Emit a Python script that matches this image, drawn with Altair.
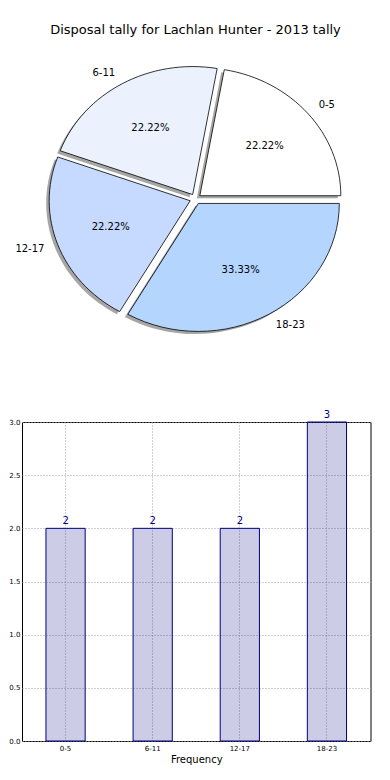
import altair as alt
import pandas as pd

# ---------------- data ----------------
TITLE = "Disposal tally for Lachlan Hunter - 2013 tally"
categories = ["0-5", "6-11", "12-17", "18-23"]
counts = [2, 2, 2, 3]
y_ticks = [0.0, 0.5, 1.0, 1.5, 2.0, 2.5, 3.0]
x_title = "Frequency"

# ---------------- style ----------------
slice_colors = ["#ffffff", "#ebf2fe", "#c6d9fe", "#b3d5fe"]
NAVY = "#000080"
FONT = "DejaVu Sans"

PLOT_LEFT = 21.5          # page x of the bar plot's left edge
CX, CY = 195 - PLOT_LEFT, 190
RX, RY = 141.0, 128.0
K = RY / RX
EXPLODE = 0.04
W = 370 - PLOT_LEFT
SIZE = (2 * RX) ** 2

df = pd.DataFrame({"idx": list(range(len(categories))), "cat": categories, "count": counts})


def r4(expr):
    return f"round(({expr})*10000)/10000"


pie_base = (
    alt.Chart(df)
    .transform_joinaggregate(total="sum(count)")
    .transform_window(cum="sum(count)", sort=[alt.SortField("idx", order="ascending")], frame=[None, 0])
    .transform_calculate(
        m0="2*PI*(datum.cum-datum.count)/datum.total",
        m1="2*PI*datum.cum/datum.total",
    )
    .transform_calculate(mm="(datum.m0+datum.m1)/2")
    .transform_calculate(
        cx=f"{CX}+{EXPLODE*RX}*cos(datum.mm)",
        cy=f"{CY}-{EXPLODE*RY}*sin(datum.mm)",
    )
    .transform_calculate(
        sx="datum.cx-3",
        sy="datum.cy+2.6",
        lx=f"datum.cx+{1.1*RX}*cos(datum.mm)",
        ly=f"datum.cy-{1.1*RY}*sin(datum.mm)",
        px=f"datum.cx+{0.6*RX}*cos(datum.mm)",
        py=f"datum.cy-{0.6*RY}*sin(datum.mm)",
        pct="format(100*datum.count/datum.total,'.2f')+'%'",
        path=(
            "'M0,0L'+" + r4("cos(datum.m0)") + "+','+" + r4(f"-{K}*sin(datum.m0)")
            + f"+'A1,{K:.5f},0,0,0,'+" + r4("cos(datum.m1)") + "+','+" + r4(f"-{K}*sin(datum.m1)")
            + "+'Z'"
        ),
    )
)

shadow = pie_base.mark_point(filled=True, size=SIZE, color="#4d4d4d", opacity=0.5).encode(
    x=alt.X("sx:Q", scale=None, axis=None),
    y=alt.Y("sy:Q", scale=None, axis=None),
    shape=alt.Shape("path:N", scale=None, legend=None),
)

slices = pie_base.mark_point(filled=True, size=SIZE, opacity=1, stroke="black", strokeWidth=0.8).encode(
    x=alt.X("cx:Q", scale=None, axis=None),
    y=alt.Y("cy:Q", scale=None, axis=None),
    shape=alt.Shape("path:N", scale=None, legend=None),
    fill=alt.Fill("cat:N", scale=alt.Scale(domain=categories, range=slice_colors), legend=None),
)

pct_text = pie_base.mark_text(fontSize=10, font=FONT, color="black", align="center", baseline="middle").encode(
    x=alt.X("px:Q", scale=None, axis=None),
    y=alt.Y("py:Q", scale=None, axis=None),
    text="pct:N",
)

lab_right = pie_base.transform_filter("cos(datum.mm) > 0").mark_text(
    fontSize=10, font=FONT, color="black", align="left", baseline="middle"
).encode(
    x=alt.X("lx:Q", scale=None, axis=None),
    y=alt.Y("ly:Q", scale=None, axis=None),
    text="cat:N",
)

lab_left = pie_base.transform_filter("cos(datum.mm) <= 0").mark_text(
    fontSize=10, font=FONT, color="black", align="right", baseline="middle"
).encode(
    x=alt.X("lx:Q", scale=None, axis=None),
    y=alt.Y("ly:Q", scale=None, axis=None),
    text="cat:N",
)

title_df = pd.DataFrame({"t": [TITLE]})
title = alt.Chart(title_df).mark_text(fontSize=13, font=FONT, color="black", align="center", baseline="middle").encode(
    x=alt.value(195 - PLOT_LEFT),
    y=alt.value(21),
    text="t:N",
)

pie = alt.layer(shadow, slices, pct_text, lab_right, lab_left, title).properties(
    width=W, height=390, view=alt.ViewBackground(stroke="transparent")
)

# ---------------- bar chart ----------------
bar_base = alt.Chart(df).encode(
    x=alt.X(
        "cat:N",
        sort=categories,
        scale=alt.Scale(paddingInner=0.55, paddingOuter=0.275),
        axis=alt.Axis(
            title=x_title, labelAngle=0, grid=True, gridDash=[1, 2], gridColor="#a0a0a0",
            bandPosition=0.5, ticks=False, domain=False, labelFontSize=7, labelColor="black",
            labelPadding=3, titleFontSize=10, titleFontWeight="normal", titleColor="black",
            titlePadding=3, labelFont=FONT, titleFont=FONT,
        ),
    ),
    y=alt.Y(
        "count:Q",
        scale=alt.Scale(domain=[0, 3], nice=False),
        axis=alt.Axis(
            title=None, values=y_ticks, format=".1f", grid=True, gridDash=[1, 2], gridColor="#a0a0a0",
            ticks=False, domain=False, labelFontSize=7, labelColor="black", labelPadding=2, labelFont=FONT,
        ),
    ),
)

bars = bar_base.mark_bar(fill=NAVY, fillOpacity=0.2, stroke=NAVY, strokeWidth=1)
vals = bar_base.mark_text(color=NAVY, fontSize=10, font=FONT, baseline="bottom", dy=-2).encode(text="count:Q")

bar_chart = alt.layer(bars, vals).properties(
    width=W, height=319, view=alt.ViewBackground(stroke="black", strokeWidth=1)
)

chart = (
    alt.vconcat(pie, bar_chart, spacing=23, bounds="flush")
    .properties(padding=0)
    .configure_view(stroke="black", strokeWidth=1)
    .configure(font=FONT)
)

chart.save("out.html", embed_options={"renderer": "svg", "actions": False})
